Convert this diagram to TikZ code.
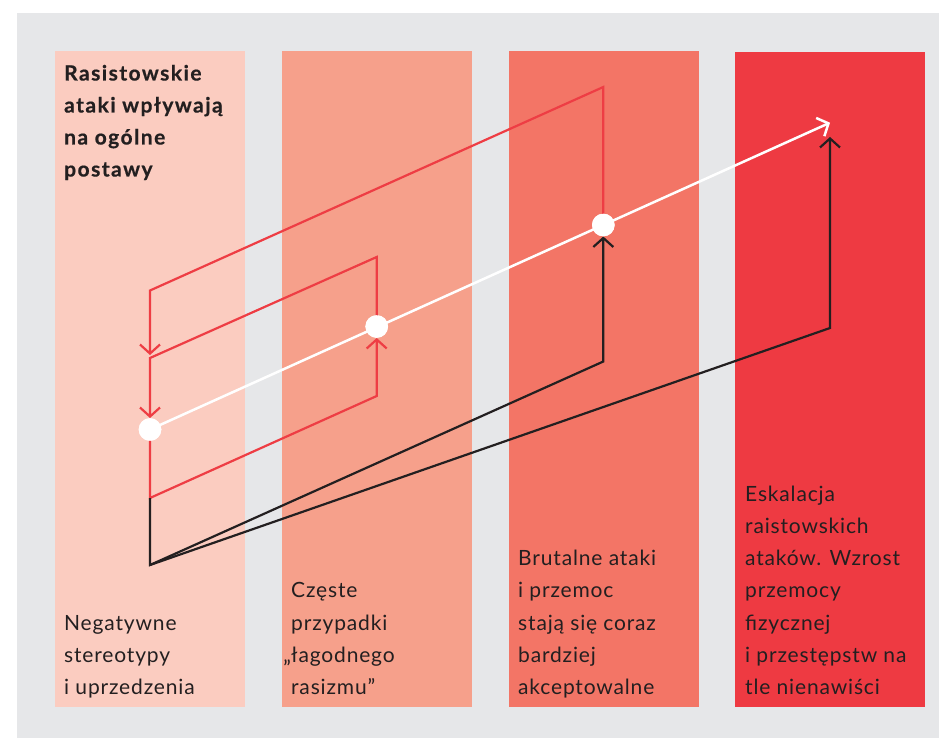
\documentclass[tikz,border=0pt]{standalone}
\usepackage{fontspec}
\setmainfont{Lato}
\newfontfamily\bodyf{Lato}[LetterSpace=4]
\newfontfamily\titlef{Lato}[LetterSpace=7,BoldFeatures={FakeBold=0.6}]
\usetikzlibrary{arrows.meta}
\definecolor{bgg}{HTML}{E6E7E9}
\definecolor{cola}{HTML}{FBCCC0}
\definecolor{colb}{HTML}{F6A08B}
\definecolor{colc}{HTML}{F37566}
\definecolor{cold}{HTML}{EE3A42}
\definecolor{redl}{HTML}{EE3D44}
\definecolor{ink}{HTML}{231F20}
\tikzset{
  barb/.tip={Straight Barb[length=9pt,width=20pt]},
  redline/.style={draw=redl,line width=2.2pt},
  blackline/.style={draw=ink,line width=2.2pt},
  whiteline/.style={draw=white,line width=2.5pt},
  dot/.style={circle,fill=white,minimum size=22.6pt,inner sep=0pt},
  txt/.style={anchor=base west,inner sep=0pt,text=ink,font=\bodyf\fontsize{21}{24}\selectfont},
  ttl/.style={txt,font=\titlef\fontsize{21}{24}\selectfont\bfseries},
}
\begin{document}
\begin{tikzpicture}[x=1pt,y=-1pt]
\useasboundingbox (0,0) rectangle (939,738);
\fill[white] (0,0) rectangle (939,738);
\fill[bgg] (17,13) rectangle (939,738);
% columns
\fill[cola] (55,51) rectangle (245,707);
\fill[colb] (282,51) rectangle (472,707);
\fill[colc] (509,51) rectangle (699,707);
\fill[cold] (735,52) rectangle (925,707);

% dots (nodes) and coordinates
\node[dot] (d1) at (150,429.5) {};
\node[dot] (d2) at (376.7,326.5) {};
\node[dot] (d3) at (603.3,225) {};
\coordinate (b1) at (603.3,87);
\coordinate (b2) at (150,290.5);
\coordinate (b3) at (150,355);
\coordinate (a1) at (376.7,257);
\coordinate (a2) at (150,358);
\coordinate (a3) at (150,498);
\coordinate (a4) at (376.7,396);
\coordinate (k1) at (150,565);
\coordinate (k2) at (603.3,361.5);
\coordinate (k3) at (830,328);
\coordinate (k4) at (830,137);
\coordinate (w1) at (830,122.7);

% red loops
\draw[redline,-barb] (d3.center) -- (b1) -- (b2) -- (b3);
\draw[redline,-barb] (d2.center) -- (a1) -- (a2) -- (d1);
\draw[redline,-barb] (d1.center) -- (a3) -- (a4) -- (d2);
% black paths
\draw[blackline,-barb] (a3) -- (k1) -- (k2) -- (d3);
\draw[blackline,-barb] (k1) -- (k3) -- (k4);
% white arrow
\draw[whiteline,-barb] (d1.center) -- (w1);
% dots on top
\node[dot] at (d1) {};
\node[dot] at (d2) {};
\node[dot] at (d3) {};

% title
\foreach \t [count=\i] in {Rasistowskie,ataki wpływają,na ogólne,postawy}
  \node[ttl] (t\i) at (64,{80.5+(\i-1)*32}) {\t};
% column texts
\foreach \t [count=\i] in {Negatywne,stereotypy,i uprzedzenia}
  \node[txt] (p\i) at (64,{694.5-(3-\i)*32.25}) {\t};
\foreach \t [count=\i] in {Częste,przypadki,\llap{„}łagodnego,rasizmu”}
  \node[txt] (q\i) at (291,{694.5-(4-\i)*32.25}) {\t};
\foreach \t [count=\i] in {Brutalne ataki,i przemoc,stają się coraz,bardziej,akceptowalne}
  \node[txt] (r\i) at (518,{694.5-(5-\i)*32.25}) {\t};
\foreach \t [count=\i] in {Eskalacja,raistowskich,ataków. Wzrost,przemocy,fizycznej,i przestępstw na,tle nienawiści}
  \node[txt] (s\i) at (745,{694.5-(7-\i)*32.25}) {\t};
\end{tikzpicture}
\end{document}
